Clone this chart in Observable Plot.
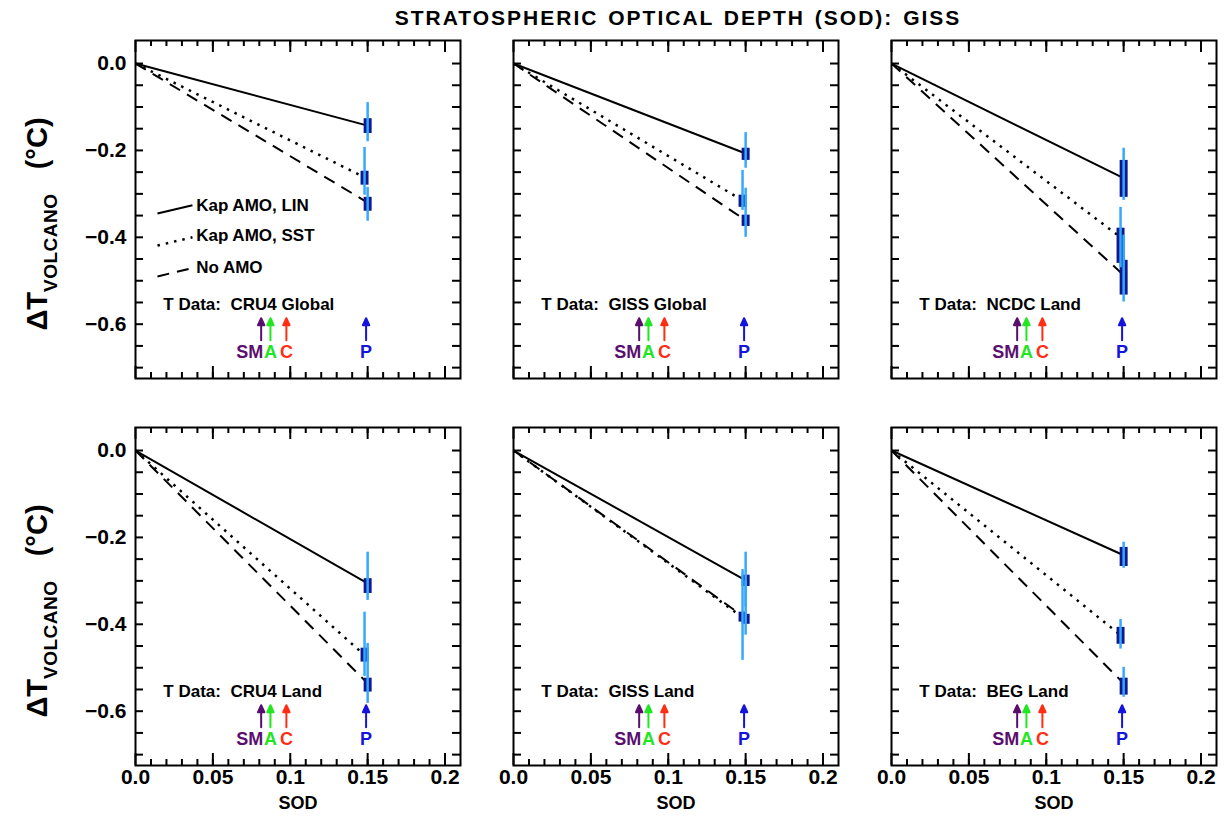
<!DOCTYPE html>
<html><head><meta charset="utf-8">
<script src="https://cdn.jsdelivr.net/npm/d3@7"></script>
<script src="https://cdn.jsdelivr.net/npm/@observablehq/plot@0.6"></script>
<style>
body{margin:0;background:#fff;}
#wrap{position:relative;width:1230px;height:825px;font-family:"Liberation Sans",Arial,sans-serif;overflow:hidden;}
#title{position:absolute;top:6px;left:678px;transform:translateX(-50%);font-weight:bold;font-size:21px;letter-spacing:2px;word-spacing:2px;white-space:nowrap;}
.ylab{position:absolute;transform:translate(-50%,-50%) rotate(-90deg);font-weight:bold;font-size:29px;white-space:nowrap;}
.ylab sub{font-size:19px;vertical-align:-10px;letter-spacing:0.5px;}
</style></head>
<body><div id="wrap">
<div id="title">STRATOSPHERIC OPTICAL DEPTH (SOD): GISS</div>
<div class="ylab" style="left:41px;top:224px">ΔT<sub>VOLCANO</sub>&nbsp;&nbsp;&nbsp;(°C)</div>
<div class="ylab" style="left:41px;top:611px">ΔT<sub>VOLCANO</sub>&nbsp;&nbsp;&nbsp;(°C)</div>
</div>
<script>
// ---- data ----
const panelNames = ["CRU4 Global", "GISS Global", "NCDC Land", "CRU4 Land", "GISS Land", "BEG Land"];
const seriesNames = ["Kap AMO, LIN", "Kap AMO, SST", "No AMO"];
const seriesSOD = [0.150, 0.148, 0.150];           // Pinatubo SOD (slightly offset for SST)
// end value of each fitted line (°C) per panel: [LIN, SST, No AMO]
const endValues = [
  [-0.143, -0.262, -0.320],
  [-0.207, -0.315, -0.361],
  [-0.264, -0.400, -0.487],
  [-0.306, -0.471, -0.536],
  [-0.299, -0.384, -0.386],
  [-0.241, -0.425, -0.536]
];
// dark-blue box range
const boxLow = [
  [-0.161, -0.280, -0.340],
  [-0.223, -0.331, -0.375],
  [-0.308, -0.460, -0.533],
  [-0.329, -0.487, -0.556],
  [-0.313, -0.395, -0.400],
  [-0.267, -0.446, -0.563]
];
const boxHigh = [
  [-0.127, -0.248, -0.308],
  [-0.195, -0.303, -0.349],
  [-0.223, -0.379, -0.453],
  [-0.295, -0.455, -0.524],
  [-0.287, -0.372, -0.377],
  [-0.223, -0.407, -0.524]
];
// light-blue whisker range
const whiskLow = [
  [-0.180, -0.303, -0.363],
  [-0.241, -0.338, -0.400],
  [-0.315, -0.470, -0.549],
  [-0.345, -0.520, -0.582],
  [-0.360, -0.483, -0.425],
  [-0.271, -0.457, -0.568]
];
const whiskHigh = [
  [-0.090, -0.193, -0.285],
  [-0.159, -0.246, -0.287],
  [-0.195, -0.331, -0.395],
  [-0.234, -0.372, -0.444],
  [-0.234, -0.274, -0.300],
  [-0.211, -0.389, -0.499]
];
const volcNames = ["SM", "A", "C", "P"];
const volcSOD = [0.0812, 0.0872, 0.0975, 0.1490];
const volcColors = ["#5a0f6e", "#22e622", "#ff2e12", "#1414dc"];
const xTickValues = [0, 0.05, 0.10, 0.15, 0.20];
const xTickLabels = ["0.0", "0.05", "0.1", "0.15", "0.2"];
const yTickValues = [0, -0.2, -0.4, -0.6];
const yTickLabels = ["0.0", "\u22120.2", "\u22120.4", "\u22120.6"];

// ---- layout ----
const W = 325, H = 338;
const panelLeft = [135, 513, 891];
const panelTop = [40, 427];
const dashes = [null, "2.5,6", "12,8"];
const widths = [2, 2.5, 2];
const xMinor = d3.range(1, 21).map(k => k / 100);
const yMinor = d3.range(0, 15).map(k => -k * 0.05);
const FONT = "Liberation Sans, Arial, sans-serif";
const wrap = document.getElementById("wrap");

// filled-head arrow shape for the volcano markers
const filledArrow = {
  draw(context, l) {
    context.moveTo(0, 0);
    context.lineTo(0, -l + 5);
    context.moveTo(-3.2, -l + 7);
    context.lineTo(0, -l);
    context.lineTo(3.2, -l + 7);
    context.closePath();
  }
};

panelNames.forEach((name, i) => {
  const col = i % 3, row = Math.floor(i / 3);
  const mL = col === 0 ? 62 : 10, mR = 12, mT = 10, mB = row === 1 ? 55 : 10;
  const marks = [];
  // fitted lines
  seriesNames.forEach((s, j) => {
    marks.push(Plot.link([{x1: 0, y1: 0, x2: seriesSOD[j], y2: endValues[i][j]}],
      {x1: "x1", y1: "y1", x2: "x2", y2: "y2", stroke: "black", strokeWidth: widths[j],
       strokeDasharray: dashes[j]}));
  });
  // error bars
  const bars = seriesNames.map((s, j) => ({x: seriesSOD[j], blo: boxLow[i][j], bhi: boxHigh[i][j],
    lo: whiskLow[i][j], hi: whiskHigh[i][j]}));
  marks.push(Plot.ruleX(bars, {x: "x", y1: "blo", y2: "bhi", stroke: "#0c1a8c", strokeWidth: 8}));
  marks.push(Plot.ruleX(bars, {x: "x", y1: "lo", y2: "hi", stroke: "#35a8ff", strokeWidth: 2.5}));
  // volcano arrows
  const volc = volcNames.map((v, k) => ({name: v, sod: volcSOD[k], color: volcColors[k]}));
  marks.push(Plot.vector(volc, {x: "sod", y: -0.637, length: 22, anchor: "start", shape: filledArrow,
    stroke: "color", fill: "color", strokeWidth: 2}));
  marks.push(Plot.text(volc.filter(d => d.name === "SM"), {x: "sod", y: -0.665, text: "name", fill: "color",
    textAnchor: "end", dx: 2, fontSize: 18, fontWeight: "bold"}));
  marks.push(Plot.text(volc.filter(d => d.name !== "SM"), {x: "sod", y: -0.665, text: "name", fill: "color",
    fontSize: 18, fontWeight: "bold"}));
  // dataset label
  marks.push(Plot.text(["T Data:  " + name], {x: 0.018, y: -0.555, text: d => d, textAnchor: "start",
    fontSize: 17, fontWeight: "bold", fill: "black"}));
  // legend (first panel only)
  if (i === 0) {
    const ly = [-0.326, -0.400, -0.471];
    const ty = [-0.326, -0.395, -0.469];
    seriesNames.forEach((s, j) => {
      marks.push(Plot.link([0], {x1: 0.0142, x2: 0.0368, y1: ly[j] - 0.019, y2: ly[j],
        stroke: "black", strokeWidth: widths[j], strokeDasharray: dashes[j]}));
      marks.push(Plot.text([s], {x: 0.0392, y: ty[j], text: d => d, textAnchor: "start",
        fontSize: 17, fontWeight: "bold"}));
    });
  }
  // ticks on all four sides, pointing inward
  const tk = {stroke: "black", strokeWidth: 2};
  marks.push(Plot.ruleX(xMinor, {x: d => d, insetTop: H - 6, ...tk}));
  marks.push(Plot.ruleX(xMinor, {x: d => d, insetBottom: H - 6, ...tk}));
  marks.push(Plot.ruleX(xTickValues, {x: d => d, insetTop: H - 12, ...tk}));
  marks.push(Plot.ruleX(xTickValues, {x: d => d, insetBottom: H - 12, ...tk}));
  marks.push(Plot.ruleY(yMinor, {y: d => d, insetRight: W - 8, ...tk}));
  marks.push(Plot.ruleY(yMinor, {y: d => d, insetLeft: W - 8, ...tk}));
  marks.push(Plot.frame({stroke: "black", strokeWidth: 2}));
  if (col === 0) {
    marks.push(Plot.text(yTickValues, {y: d => d, frameAnchor: "left", dx: -9, textAnchor: "end",
      text: (d, k) => yTickLabels[k], fontSize: 21, fontWeight: "bold"}));
  }
  if (row === 1) {
    marks.push(Plot.text(xTickValues, {x: d => d, frameAnchor: "bottom", dy: 18,
      text: (d, k) => xTickLabels[k], fontSize: 21, fontWeight: "bold"}));
    marks.push(Plot.text(["SOD"], {frameAnchor: "bottom", dy: 43, text: d => d, fontSize: 18, fontWeight: "bold"}));
  }
  const svg = Plot.plot({
    width: W + mL + mR, height: H + mT + mB,
    marginLeft: mL, marginRight: mR, marginTop: mT, marginBottom: mB,
    x: {domain: [0, 0.21], axis: null},
    y: {domain: [-0.725, 0.053], axis: null},
    color: {type: "identity"},
    style: {fontFamily: FONT, background: "transparent", overflow: "visible"},
    marks
  });
  svg.style.position = "absolute";
  svg.style.left = (panelLeft[col] - mL) + "px";
  svg.style.top = (panelTop[row] - mT) + "px";
  wrap.appendChild(svg);
});
</script>
</body></html>
